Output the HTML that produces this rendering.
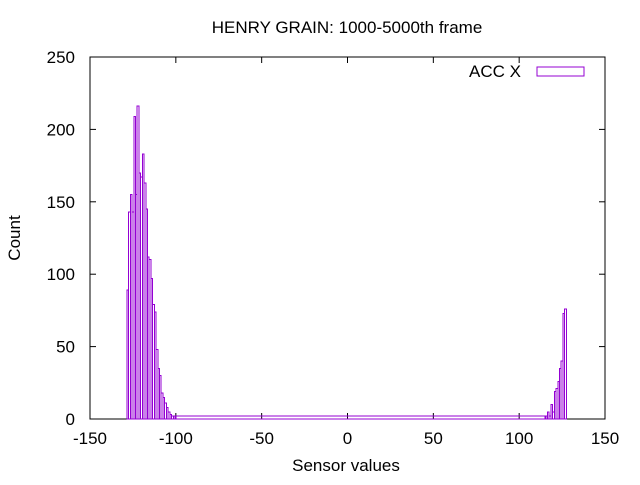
<!DOCTYPE html>
<html><head><meta charset="utf-8"><style>
body{margin:0;background:#fff}
text{font-family:"Liberation Sans",sans-serif;font-size:17px;fill:#000}
</style></head><body>
<svg id="chart" width="640" height="480">
<rect width="640" height="480" fill="#fff"/>
<text x="347" y="33" text-anchor="middle">HENRY GRAIN: 1000-5000th frame</text>
<text x="346" y="471" text-anchor="middle">Sensor values</text>
<text transform="translate(20,238) rotate(-90)" text-anchor="middle">Count</text>
<g id="axes"></g>
<g id="bars" shape-rendering="crispEdges"></g>
<text x="521" y="77" text-anchor="end">ACC X</text>
<rect x="537" y="67" width="47" height="9" fill="none" stroke="#9400d3" stroke-width="1" shape-rendering="crispEdges"/>
</svg>
<script>
const leftBins = [-128,-127,-126,-125,-124,-123,-122,-121,-120,-119,-118,-117,-116,-115,-114,-113,-112,-111,-110,-109,-108,-107,-106,-105,-104,-103,-102,-101];
const leftCounts = [89,143,155,143,209,155,216,170,167,183,163,145,112,110,97,79,74,48,35,30,18,15,11,8,5,3,2,2];
const rightBins = [116,117,118,119,120,121,122,123,124,125,126,127];
const rightCounts = [2,5,2,10,5,19,21,26,35,40,73,76];
const flatSpan = [-100, 115];
const flatCount = [2];
const xTicks = [-150,-100,-50,0,50,100,150];
const yTicks = [0,50,100,150,200,250];

const X0=90,X1=605,Y0=419,Y1=57;
const xs=v=>X0+(v+150)/300*(X1-X0);
const ys=v=>Y0-v/250*(Y0-Y1);
const NS="http://www.w3.org/2000/svg";
const ax=document.getElementById('axes'), bg=document.getElementById('bars');
function mk(tag,attrs,parent){const e=document.createElementNS(NS,tag);for(const k in attrs)e.setAttribute(k,attrs[k]);parent.appendChild(e);return e;}
const frame=mk('rect',{x:X0,y:Y1,width:X1-X0,height:Y0-Y1,fill:'none',stroke:'#000','stroke-width':1,'shape-rendering':'crispEdges'},ax);


xTicks.forEach(t=>{
  const x=xs(t);
  mk('line',{x1:x,x2:x,y1:Y0,y2:Y0-6,stroke:'#000'},ax);
  mk('line',{x1:x,x2:x,y1:Y1,y2:Y1+6,stroke:'#000'},ax);
  const tx=mk('text',{x:x,y:Y0+25,'text-anchor':'middle'},ax);
  tx.textContent=t;
  
  
});
yTicks.forEach(t=>{
  const y=ys(t);
  mk('line',{x1:X0,x2:X0+6,y1:y,y2:y,stroke:'#000'},ax);
  mk('line',{x1:X1,x2:X1-6,y1:y,y2:y,stroke:'#000'},ax);
  const tx=mk('text',{x:X0-15,y:y+6,'text-anchor':'end'},ax);
  tx.textContent=t;
  
  
});
function bar(lo,hi,v){
  const r=mk('rect',{x:xs(lo),y:ys(v),width:xs(hi)-xs(lo),height:ys(0)-ys(v),fill:'none',stroke:'#9400d3','stroke-width':1},bg);
  
  
}
leftBins.forEach((b,i)=>bar(b-0.5,b+0.5,leftCounts[i]));
bar(flatSpan[0],flatSpan[1],flatCount[0]);
rightBins.forEach((b,i)=>bar(b-0.5,b+0.5,rightCounts[i]));
</script>
</body></html>
